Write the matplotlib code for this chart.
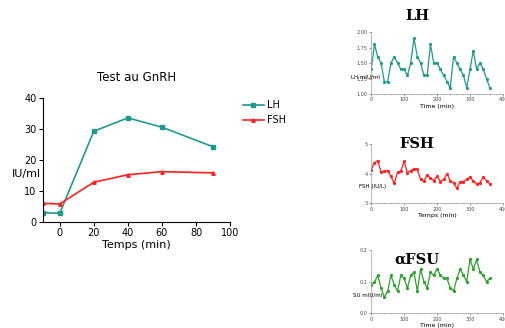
import matplotlib
matplotlib.use('Agg')
import matplotlib.pyplot as plt
import numpy as np

# main GnRH test
temps = [-10, 0, 20, 40, 60, 90]
lh_test = [3.0, 2.8, 29.2, 33.5, 30.5, 24.2]
fsh_test = [6.0, 5.8, 12.8, 15.2, 16.2, 15.8]

# pulsatility series, every 10 min
t_puls = list(range(0, 361, 10))
lh_puls = [1.4, 1.8, 1.6, 1.5, 1.2, 1.2, 1.5, 1.6, 1.5, 1.4, 1.4, 1.3, 1.5, 1.9,
           1.6, 1.5, 1.3, 1.3, 1.8, 1.5, 1.5, 1.4, 1.3, 1.2, 1.1, 1.6, 1.5, 1.4,
           1.3, 1.1, 1.4, 1.7, 1.4, 1.5, 1.4, 1.25, 1.1]
fsh_puls = [4.14, 4.37, 4.45, 4.05, 4.09, 4.11, 3.91, 3.68, 4.05, 4.09, 4.42,
            4.03, 4.11, 4.17, 4.15, 3.81, 3.75, 3.97, 3.86, 3.77, 3.92, 3.74,
            3.81, 4.0, 3.77, 3.69, 3.51, 3.74, 3.74, 3.81, 3.89, 3.75, 3.66,
            3.69, 3.89, 3.77, 3.66]
afsu_puls = [0.09, 0.098, 0.12, 0.08, 0.05, 0.07, 0.12, 0.09, 0.07, 0.12, 0.11,
             0.08, 0.12, 0.13, 0.07, 0.14, 0.10, 0.08, 0.13, 0.12, 0.14, 0.12,
             0.11, 0.11, 0.08, 0.07, 0.11, 0.14, 0.12, 0.10, 0.17, 0.14, 0.17,
             0.13, 0.12, 0.10, 0.11]

teal = '#1f9a8c'
red = '#ff2020'
green = '#2ea02e'

fig = plt.figure(figsize=(5.05, 3.28), dpi=100)
fig.patch.set_facecolor('white')

# ---- main chart
ax = fig.add_axes([0.0846, 0.3232, 0.371, 0.379])
ax.plot(temps, lh_test, color=teal, marker='s', markersize=3, lw=1.2, label='LH')
ax.plot(temps, fsh_test, color=red, marker='^', markersize=2.5, lw=1.2, label='FSH')
ax.set_xlim(-10, 100)
ax.set_ylim(0, 40)
ax.set_xticks([0, 20, 40, 60, 80, 100])
ax.set_yticks([0, 10, 20, 30, 40])
ax.spines['top'].set_visible(False)
ax.spines['right'].set_visible(False)
ax.tick_params(labelsize=7, length=3, width=0.8, pad=1.5)
ax.set_title('Test au GnRH', fontsize=8.5, pad=12)
ax.set_xlabel('Temps (min)', fontsize=8, labelpad=1)
ax.text(-0.087, 0.386, 'IU/ml', transform=ax.transAxes, fontsize=8,
        ha='center', va='center')
ax.legend(loc='upper left', bbox_to_anchor=(1.02, 1.05), frameon=False,
          fontsize=7, handlelength=2.2, handletextpad=0.3, labelspacing=0.5)


def small(pos, t, y, col, ylim, yticks, yfmt, title, title_y, ylab, ylab_xy, xlab):
    a = fig.add_axes(pos)
    a.plot(t, y, color=col, marker='o', markersize=1.3, lw=0.9)
    a.set_xlim(0, 400)
    a.set_ylim(*ylim)
    a.set_xticks([0, 100, 200, 300, 400])
    a.set_xticks(np.arange(0, 401, 20), minor=True)
    a.set_yticks(yticks)
    a.set_yticklabels([yfmt.format(v) for v in yticks])
    for s in ['top', 'right']:
        a.spines[s].set_visible(False)
    for s in ['left', 'bottom']:
        a.spines[s].set_color('#999999')
        a.spines[s].set_linewidth(0.5)
    a.tick_params(labelsize=3.5, length=1.5, width=0.4, pad=1, colors='#444444')
    a.tick_params(which='minor', length=1, width=0.4, colors='#999999')
    a.set_xlabel(xlab, fontsize=4.5, labelpad=1)
    fig.text(0.826, title_y, title, fontsize=10.5, fontweight='bold',
             family='DejaVu Serif', ha='center', va='center')
    fig.text(ylab_xy[0], ylab_xy[1], ylab, fontsize=4, ha='center', va='center')
    return a


small([0.735, 0.7134, 0.261, 0.189], t_puls, lh_puls, teal, (1.0, 2.0),
      [1.0, 1.25, 1.5, 1.75, 2.0], '{:.2f}', 'LH', 0.952,
      'LH mIU/ml', (0.723, 0.765), 'Time (min)')
small([0.735, 0.38, 0.261, 0.18], t_puls, fsh_puls, red, (3, 5),
      [3, 4, 5], '{:d}', 'FSH', 0.56,
      'FSH (IU/L)', (0.737, 0.431), 'Temps (min)')
small([0.735, 0.0448, 0.261, 0.193], t_puls, afsu_puls, green, (0.0, 0.2),
      [0.0, 0.1, 0.2], '{:.1f}', '\u03b1FSU', 0.207,
      'SU mIU/ml', (0.727, 0.1), 'Time (min)')

fig.savefig('out.png', dpi=100)
